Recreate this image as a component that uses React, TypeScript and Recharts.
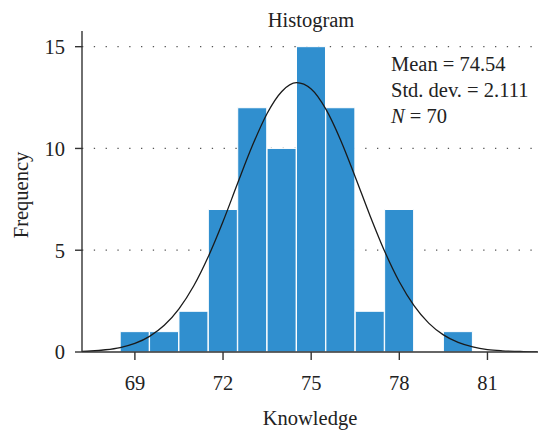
import React from "react";
import {
  ComposedChart,
  Bar,
  Line,
  XAxis,
  YAxis,
  CartesianGrid,
  Customized,
} from "recharts";

// Histogram bins (centre of bin) and their counts
const binCenters = [69, 70, 71, 72, 73, 74, 75, 76, 77, 78, 79, 80];
const binCounts = [1, 1, 2, 7, 12, 10, 15, 12, 2, 7, 0, 1];

// Fitted normal curve
const curveX = [
  67.2, 67.5, 68, 68.5, 69, 69.5, 70, 70.5, 71, 71.5, 72, 72.5, 73, 73.5, 74,
  74.5, 75, 75.5, 76, 76.5, 77, 77.5, 78, 78.5, 79, 79.5, 80, 80.5, 81, 81.5,
  82, 82.5, 82.7,
];
const curveY = [
  0.03, 0.05, 0.11, 0.22, 0.42, 0.77, 1.31, 2.12, 3.24, 4.69, 6.41, 8.3, 10.14,
  11.72, 12.8, 13.23, 12.92, 11.93, 10.42, 8.6, 6.71, 4.95, 3.45, 2.28, 1.42,
  0.84, 0.47, 0.25, 0.12, 0.06, 0.03, 0.01, 0.01,
];

const xTicks = [69, 72, 75, 78, 81];
const yTicks = [0, 5, 10, 15];
const xDomain = [67.2, 82.72];
const yDomain = [0, 15.77];

const titleText = "Histogram";
const xLabel = "Knowledge";
const yLabel = "Frequency";
const statLines = ["Mean = 74.54", "Std. dev. = 2.111"];
const nText = "70";

const barData = binCenters.map((x, i) => ({ x, count: binCounts[i] }));
const curveData = curveX.map((x, i) => ({ x, density: curveY[i] }));

const FONT = "'Liberation Serif', 'DejaVu Serif', serif";
const TEXT = "#222";
const FS = 20.5;

const W = 538;
const H = 430;

const Annotations = () => (
  <g fontFamily={FONT} fill={TEXT}>
    <text x={311} y={27} fontSize={FS} textAnchor="middle">
      {titleText}
    </text>
    <text x={310} y={425} fontSize={FS} textAnchor="middle">
      {xLabel}
    </text>
    <text
      x={0}
      y={0}
      fontSize={FS}
      textAnchor="middle"
      transform="translate(28,195) rotate(-90)"
    >
      {yLabel}
    </text>
    <text x={391} y={71} fontSize={FS}>
      {statLines[0]}
    </text>
    <text x={391} y={97} fontSize={FS}>
      {statLines[1]}
    </text>
    <text x={391} y={123} fontSize={FS}>
      <tspan fontStyle="italic">N</tspan>
      <tspan> = {nText}</tspan>
    </text>
  </g>
);

export default function App() {
  return (
    <div
      style={{
        position: "absolute",
        left: 0,
        top: 0,
        width: W,
        height: H,
        background: "#fff",
      }}
    >
      <ComposedChart
        width={W}
        height={H}
        data={barData}
        margin={{ top: 31, right: 0, bottom: 0, left: 0 }}
        barCategoryGap={0}
        barGap={0}
      >
        <CartesianGrid
          stroke="#555"
          strokeWidth={1.2}
          strokeDasharray="1.3 10.5"
          horizontalValues={[5, 10, 15]}
          verticalValues={xTicks}
        />
        <XAxis
          xAxisId="main"
          dataKey="x"
          type="number"
          domain={xDomain}
          ticks={xTicks}
          allowDataOverflow
          height={78}
          tickSize={8}
          tickMargin={15}
          stroke="#333"
          strokeWidth={1.4}
          tick={{ fontSize: FS, fontFamily: FONT, fill: TEXT }}
        />
        <XAxis
          xAxisId="bins"
          dataKey="x"
          type="number"
          domain={xDomain}
          allowDataOverflow
          height={0}
          hide
        />
        <YAxis
          type="number"
          domain={yDomain}
          ticks={yTicks}
          allowDataOverflow
          width={82}
          tickSize={7}
          tickMargin={10}
          stroke="#333"
          strokeWidth={1.4}
          tick={{ fontSize: FS, fontFamily: FONT, fill: TEXT }}
        />
        <Bar
          xAxisId="bins"
          dataKey="count"
          fill="#308fcf"
          stroke="#ffffff"
          strokeWidth={1}
          isAnimationActive={false}
        />
        <Line
          xAxisId="main"
          data={curveData}
          dataKey="density"
          type="monotone"
          stroke="#1a1a1a"
          strokeWidth={1.3}
          dot={false}
          activeDot={false}
          isAnimationActive={false}
        />
        <Customized component={Annotations} />
      </ComposedChart>
    </div>
  );
}
